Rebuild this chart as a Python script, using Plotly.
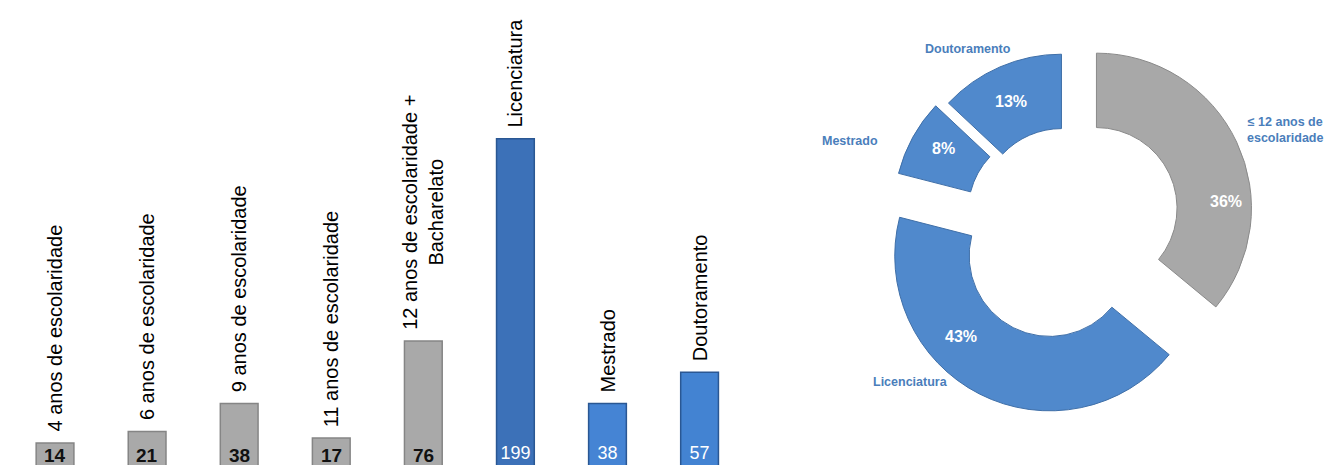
import plotly.graph_objects as go

# ---- data ----
gray_categories = ["4 anos de escolaridade", "6 anos de escolaridade", "9 anos de escolaridade",
                   "11 anos de escolaridade", "12 anos de escolaridade +<br>Bacharelato"]
gray_values = [14, 21, 38, 17, 76]
blue_categories = ["Licenciatura", "Mestrado", "Doutoramento"]
blue_values = [199, 38, 57]

pie_labels = ["≤ 12 anos de<br>escolaridade", "Licenciatura", "Mestrado", "Doutoramento"]
pie_values = [36, 43, 8, 13]
pie_pct_text = ["36%", "43%", "8%", "13%"]

# ---- layout helpers ----
# the page body has an 8px margin, so the figure is placed 8px in from the window corner
OFF = 8
WIN_W, WIN_H = 1332, 465
W, H = WIN_W - OFF, WIN_H - OFF
PX_PER_UNIT = 1.645
BASE_Y = 466  # window y of the bars' zero line

def px(x):  # window pixel -> paper x
    return (x - OFF) / W

def py(y):  # window pixel -> paper y
    return 1 - (y - OFF) / H

categories = gray_categories + blue_categories

fig = go.Figure()

fig.add_trace(go.Bar(
    x=gray_categories, y=gray_values,
    marker=dict(color="#A9A9A9", line=dict(color="#858585", width=1.5)),
    width=0.41,
    hoverinfo="skip", showlegend=False,
))
fig.add_trace(go.Bar(
    x=blue_categories, y=blue_values,
    marker=dict(color=["#3C71B8", "#4584D4", "#4383D2"], line=dict(color="#2A5793", width=1.5)),
    width=0.41,
    text=[str(v) for v in blue_values],
    textposition="inside", insidetextanchor="start", textangle=0,
    constraintext="none",
    textfont=dict(family="Liberation Sans", size=18, color="#FFFFFF"),
    hoverinfo="skip", showlegend=False,
))

# bold value labels at the foot of the gray bars
for cat, val in zip(gray_categories, gray_values):
    fig.add_annotation(
        x=cat, y=1, xref="x", yref="y", text=f"<b>{val}</b>", showarrow=False,
        xanchor="center", yanchor="bottom", yshift=-4,
        font=dict(family="Liberation Sans", size=19, color="#111111"),
    )

# rotated category labels above bars
for cat, val in zip(gray_categories + blue_categories, gray_values + blue_values):
    fig.add_annotation(
        x=cat, y=val, xref="x", yref="y", text=cat, textangle=-90,
        showarrow=False, xanchor="center", yanchor="bottom", yshift=9,
        font=dict(family="Liberation Sans", size=20, color="#000000"), align="center",
    )

# ---- donut ----
R = 155
cx, cy = 1067, 222
pulls = [0.21, 0.245, 0.135, 0.09]
half = R * (1 + max(pulls))
fig.add_trace(go.Pie(
    labels=pie_labels, values=pie_values, sort=False, direction="clockwise", rotation=0,
    hole=0.52, pull=pulls,
    marker=dict(colors=["#A8A8A8", "#5089CC", "#5089CC", "#5089CC"],
                line=dict(color=["#8A8A8A", "#3F6FA8", "#3F6FA8", "#3F6FA8"], width=1)),
    textinfo="none", hoverinfo="skip", showlegend=False,
    domain=dict(x=[px(cx - half), px(cx + half)], y=[py(cy + half), py(cy - half)]),
))

pct_pos = [(1226, 201), (961, 336), (943, 148), (1011, 101)]
for t, (x, y) in zip(pie_pct_text, pct_pos):
    fig.add_annotation(x=px(x), y=py(y), xref="paper", yref="paper", text=t, showarrow=False,
                       xanchor="center", yanchor="middle",
                       font=dict(family="Liberation Sans", size=16, color="#FFFFFF", weight="bold"))

lab_pos = [(1285, 130), (910, 382), (850, 141), (968, 49)]
for t, (x, y) in zip(pie_labels, lab_pos):
    fig.add_annotation(x=px(x), y=py(y), xref="paper", yref="paper", text=t, showarrow=False,
                       xanchor="center", yanchor="middle", align="center",
                       font=dict(family="Liberation Sans", size=12.5, color="#4A7EBB", weight="bold"))

fig.update_layout(
    width=W, height=H, margin=dict(l=0, r=0, t=0, b=0),
    paper_bgcolor="white", plot_bgcolor="white",
    barmode="overlay",
    xaxis=dict(domain=[px(9), px(745.6)], range=[-0.5, 7.5], categoryorder="array",
               categoryarray=categories, visible=False, fixedrange=True),
    yaxis=dict(range=[(BASE_Y - WIN_H) / PX_PER_UNIT, (BASE_Y - OFF) / PX_PER_UNIT],
               visible=False, fixedrange=True),
)

fig.write_html("out.html")
